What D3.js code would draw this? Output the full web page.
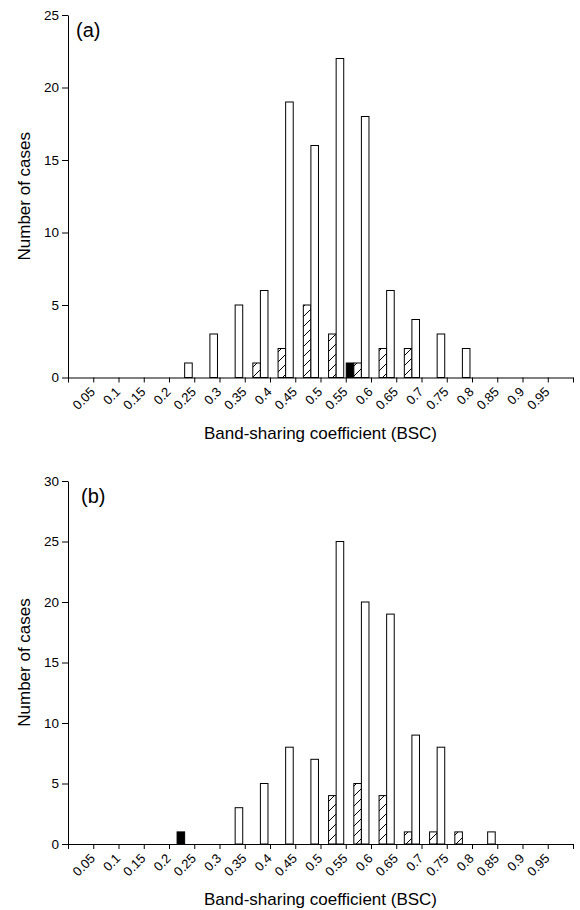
<!DOCTYPE html>
<html>
<head>
<meta charset="utf-8">
<script src="https://cdn.jsdelivr.net/npm/d3@7"></script>
<style>
  body { margin: 0; background: #fff; }
  svg { display: block; font-family: "Liberation Sans", Arial, sans-serif; }
</style>
</head>
<body>
<div id="chart"></div>
<script>
// bins start at 0, 0.05, ..., 0.95
const binStarts = d3.range(20).map(i => +(i * 0.05).toFixed(2));
const xTickLabels = ["0.05", "0.1", "0.15", "0.2", "0.25", "0.3", "0.35", "0.4", "0.45", "0.5",
  "0.55", "0.6", "0.65", "0.7", "0.75", "0.8", "0.85", "0.9", "0.95"];

// panel (a)
const whiteA = [0, 0, 0, 0, 1, 3, 5, 6, 19, 16, 22, 18, 6, 4, 3, 2, 0, 0, 0, 0];
const hatchA = [0, 0, 0, 0, 0, 0, 0, 1, 2, 5, 3, 1, 2, 2, 0, 0, 0, 0, 0, 0];
const blackA = [0, 0, 0, 0, 0, 0, 0, 0, 0, 0, 0, 1, 0, 0, 0, 0, 0, 0, 0, 0];
const yTicksA = [0, 5, 10, 15, 20, 25];

// panel (b)
const whiteB = [0, 0, 0, 0, 0, 0, 3, 5, 8, 7, 25, 20, 19, 9, 8, 0, 1, 0, 0, 0];
const hatchB = [0, 0, 0, 0, 0, 0, 0, 0, 0, 0, 4, 5, 4, 1, 1, 1, 0, 0, 0, 0];
const blackB = [0, 0, 0, 0, 1, 0, 0, 0, 0, 0, 0, 0, 0, 0, 0, 0, 0, 0, 0, 0];
const yTicksB = [0, 5, 10, 15, 20, 25, 30];

const W = 580, H = 910;
const svg = d3.select('#chart').append('svg')
  .attr('width', W).attr('height', H);
svg.append('rect').attr('width', W).attr('height', H).attr('fill', '#fff');

// diagonal hatch
const defs = svg.append('defs');
const pat = defs.append('pattern')
  .attr('id', 'hatch')
  .attr('patternUnits', 'userSpaceOnUse')
  .attr('width', 10).attr('height', 10);
pat.append('rect').attr('width', 10).attr('height', 10).attr('fill', '#fff');
pat.append('path')
  .attr('d', 'M-2,12 L12,-2 M-2,2 L2,-2 M8,12 L12,8')
  .attr('stroke', '#000').attr('stroke-width', 1);

const x = d3.scaleLinear().domain([0, 1]).range([68, 573]);
const binW = x(0.05) - x(0);
const slotW = binW * 0.3;

function drawPanel(opt) {
  const g = svg.append('g');
  const y = d3.scaleLinear().domain([0, opt.ymax]).range([opt.bottom, opt.top]);

  // bars
  opt.series.forEach(s => {
    g.append('g').selectAll('rect')
      .data(binStarts.map((b, i) => ({ b, v: s.values[i] })).filter(d => d.v > 0))
      .join('rect')
      .attr('x', d => x(d.b) + 0.5 + s.slot * slotW)
      .attr('width', slotW)
      .attr('y', d => y(d.v))
      .attr('height', d => y(0) - y(d.v))
      .attr('fill', s.fill)
      .attr('stroke', '#000')
      .attr('stroke-width', 1);
  });

  // y axis
  const ya = g.append('g')
    .attr('transform', `translate(${x(0)},0)`)
    .call(d3.axisLeft(y).tickValues(opt.yTicks).tickSize(6).tickSizeOuter(0).tickPadding(3));
  ya.selectAll('text').attr('font-size', 13.5).attr('font-family', null);

  // x axis
  const xa = g.append('g')
    .attr('transform', `translate(0,${opt.bottom})`)
    .call(d3.axisBottom(x)
      .tickValues(d3.range(21).map(i => i * 0.05))
      .tickSize(5).tickSizeOuter(0)
      .tickFormat((d, i) => (i > 0 && i < 20) ? xTickLabels[i - 1] : ''));
  xa.selectAll('text')
    .attr('font-size', 13).attr('font-family', null)
    .attr('text-anchor', 'end')
    .attr('x', 0).attr('y', 0).attr('dy', '0.35em')
    .attr('transform', 'translate(-1,12) rotate(-45)');
  g.selectAll('.domain').attr('stroke', '#000');
  g.selectAll('.tick line').attr('stroke', '#000');

  // titles
  g.append('text')
    .attr('x', (x(0) + x(1)) / 2).attr('y', opt.bottom + 61)
    .attr('text-anchor', 'middle').attr('font-size', 17)
    .text('Band-sharing coefficient (BSC)');
  g.append('text')
    .attr('transform', `translate(30,${(opt.top + opt.bottom) / 2}) rotate(-90)`)
    .attr('text-anchor', 'middle').attr('font-size', 17)
    .text('Number of cases');
  g.append('text')
    .attr('x', opt.labelX).attr('y', opt.top + 22)
    .attr('font-size', 20)
    .text(opt.label);
}

drawPanel({
  label: '(a)', labelX: 76, top: 15, bottom: 377.5, ymax: 25, yTicks: yTicksA,
  series: [
    { values: blackA, fill: '#000', slot: 0 },
    { values: hatchA, fill: 'url(#hatch)', slot: 1 },
    { values: whiteA, fill: '#fff', slot: 2 }
  ]
});

drawPanel({
  label: '(b)', labelX: 81, top: 481, bottom: 844, ymax: 30, yTicks: yTicksB,
  series: [
    { values: blackB, fill: '#000', slot: 1 },
    { values: hatchB, fill: 'url(#hatch)', slot: 1 },
    { values: whiteB, fill: '#fff', slot: 2 }
  ]
});
</script>
</body>
</html>
